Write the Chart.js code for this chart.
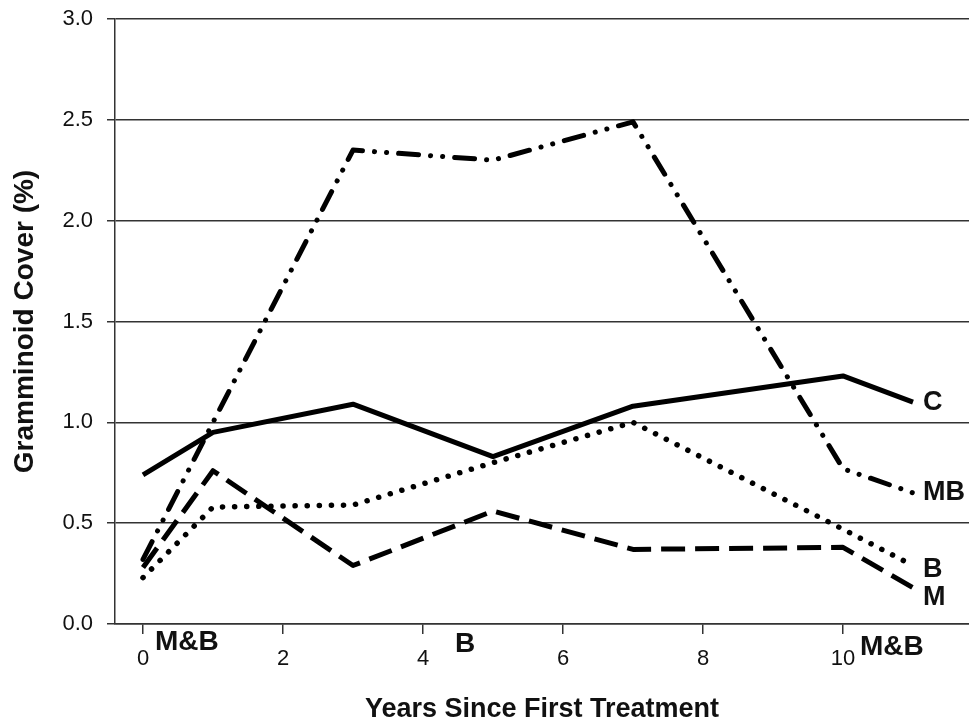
<!DOCTYPE html>
<html>
<head>
<meta charset="utf-8">
<script src="https://cdn.jsdelivr.net/npm/chart.js@4/dist/chart.umd.min.js"></script>
<style>
  html, body { margin: 0; padding: 0; background: #fff; overflow: hidden; }
  #wrap { width: 969px; height: 723px; }
</style>
</head>
<body>
<div id="wrap"><canvas id="c" width="969" height="723"></canvas></div>
<script>
// Years since first treatment at which cover was sampled
const years = [0, 1, 3, 5, 7, 10, 11];

// Gramminoid cover (%) by treatment
const coverC  = [0.74, 0.95, 1.09, 0.83, 1.08, 1.23, 1.10];
const coverMB = [0.32, 1.00, 2.35, 2.30, 2.49, 0.77, 0.65];
const coverB  = [0.23, 0.58, 0.59, 0.80, 1.00, 0.47, 0.29];
const coverM  = [0.28, 0.76, 0.29, 0.56, 0.37, 0.38, 0.18];

// Series names drawn at the end of each line
const seriesNames = ['C', 'MB', 'B', 'M'];

// Treatments applied along the time axis
const treatmentNames = ['M&B', 'B', 'M&B'];
const treatmentYears = [0, 4.5, 10];

// Tick labels
const xTicks = [0, 2, 4, 6, 8, 10];
const yTicks = [0, 0.5, 1.0, 1.5, 2.0, 2.5, 3.0];

const pts = arr => years.map((x, i) => ({ x, y: arr[i] }));

const ink = '#111';
const gridInk = '#333';

// End-of-line series labels and treatment markers under the axis
const annotate = {
  id: 'annotate',
  afterDatasetsDraw(chart, args, opts) {
    const { ctx, scales: { x, y } } = chart;
    ctx.save();
    ctx.fillStyle = ink;
    ctx.font = 'bold 27px "Liberation Sans", Arial, sans-serif';
    ctx.textAlign = 'left';
    ctx.textBaseline = 'middle';
    chart.data.datasets.forEach((ds, i) => {
      const last = ds.data[ds.data.length - 1];
      ctx.fillText(seriesNames[i], x.getPixelForValue(last.x) + opts.endGap,
                   y.getPixelForValue(last.y) + opts.endDy[i]);
    });
    ctx.font = 'bold 28px "Liberation Sans", Arial, sans-serif';
    ctx.textBaseline = 'alphabetic';
    treatmentNames.forEach((name, i) => {
      ctx.fillText(name, x.getPixelForValue(treatmentYears[i]) + opts.treatDx[i],
                   y.bottom + opts.treatDy[i]);
    });
    ctx.restore();
  }
};

const lineBase = {
  fill: false,
  pointRadius: 0,
  borderColor: '#000',
  borderWidth: 5,
  tension: 0,
  borderJoinStyle: 'round'
};

new Chart(document.getElementById('c'), {
  type: 'line',
  data: {
    datasets: [
      { ...lineBase, label: 'C',  data: pts(coverC), borderCapStyle: 'butt' },
      { ...lineBase, label: 'MB', data: pts(coverMB), borderCapStyle: 'round',
        borderDash: [20, 12, 0.1, 12, 0.1, 12] },
      { ...lineBase, label: 'B',  data: pts(coverB), borderCapStyle: 'round', borderWidth: 5.5,
        borderDash: [0.1, 12] },
      { ...lineBase, label: 'M',  data: pts(coverM), borderCapStyle: 'butt',
        borderDash: [24, 10] }
    ]
  },
  options: {
    responsive: false,
    animation: false,
    events: [],
    layout: { padding: { top: 19, left: 0, right: 0, bottom: 0 } },
    plugins: {
      legend: { display: false },
      tooltip: { enabled: false },
      annotate: {
        endGap: 10,
        endDy: [0, 0, 4, 10],
        treatDx: [12, -3, 17],
        treatDy: [26, 28, 31]
      }
    },
    scales: {
      x: {
        type: 'linear',
        min: -0.4,
        max: 11.8,
        afterBuildTicks: s => { s.ticks = xTicks.map(v => ({ value: v })); },
        afterFit: s => { s.height = 99; s.paddingLeft = 0; s.paddingRight = 0; },
        grid: {
          drawOnChartArea: false,
          drawTicks: true,
          tickLength: 10,
          color: gridInk,
          lineWidth: 1.5
        },
        border: { display: true, color: gridInk, width: 1.5 },
        ticks: {
          color: ink,
          padding: 12,
          maxRotation: 0,
          font: { family: '"Liberation Sans", Arial, sans-serif', size: 22 }
        },
        title: {
          display: true,
          text: 'Years Since First Treatment',
          color: ink,
          padding: { top: 0, bottom: -3 },
          font: { family: '"Liberation Sans", Arial, sans-serif', size: 27, weight: 'bold' }
        }
      },
      y: {
        type: 'linear',
        min: 0,
        max: 3,
        afterBuildTicks: s => { s.ticks = yTicks.map(v => ({ value: v })); },
        afterFit: s => { s.width = 115; s.paddingTop = 0; s.paddingBottom = 0; },
        grid: {
          drawOnChartArea: true,
          drawTicks: true,
          tickLength: 8,
          color: gridInk,
          lineWidth: 1.5
        },
        border: { display: true, color: gridInk, width: 1.5 },
        ticks: {
          color: ink,
          padding: 14,
          callback: v => Number(v).toFixed(1),
          font: { family: '"Liberation Sans", Arial, sans-serif', size: 22 }
        },
        title: {
          display: true,
          text: 'Gramminoid Cover (%)',
          color: ink,
          padding: { top: 8, bottom: 0 },
          font: { family: '"Liberation Sans", Arial, sans-serif', size: 28, weight: 'bold' }
        }
      }
    }
  },
  plugins: [annotate]
});
</script>
</body>
</html>
